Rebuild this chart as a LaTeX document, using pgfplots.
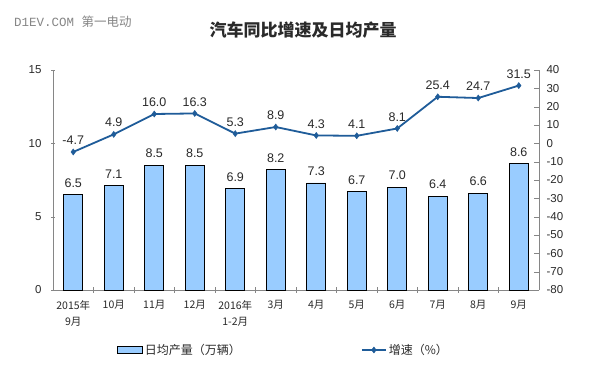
\documentclass[border=0pt]{standalone}
\usepackage{fontspec}
\setmainfont{Liberation Sans}
\setmonofont{Liberation Mono}
\newfontfamily\cjk{Noto Sans CJK SC}
\usepackage{pgfplots}
\pgfplotsset{compat=1.18}
\definecolor{barfill}{HTML}{99CCFF}
\definecolor{linec}{HTML}{1F5C99}
\definecolor{axgray}{HTML}{868686}
\definecolor{txt}{HTML}{2A2A2A}
\pgfplotsset{
  mybarlegend/.style={legend image code/.code={\draw[##1] (0bp,-3.5bp) rectangle (25bp,3.5bp);}},
  mylinelegend/.style={legend image code/.code={\draw[##1, mark repeat=2, mark phase=2] plot coordinates {(0bp,0bp) (12bp,0bp) (24bp,0bp)};}},
}
\begin{document}
\begin{tikzpicture}
\useasboundingbox[fill=white] (0,0) rectangle (596bp,384bp);
\node[anchor=west, text=axgray, font=\fontsize{12.5bp}{14bp}\selectfont, inner sep=0] at (14bp,362bp) {\ttfamily D1EV.COM \cjk 第一电动};
\node[font=\cjk\bfseries\fontsize{17bp}{20bp}\selectfont, text=txt] at (303bp,354bp) {汽车同比增速及日均产量};
\begin{axis}[
  at={(53bp,94bp)}, anchor=south west, scale only axis,
  width=486bp, height=220bp,
  xmin=-0.5, xmax=11.5, ymin=0, ymax=15,
  ytick={0,5,10,15},
  axis lines*=left,
  axis line style={axgray},
  xtick={0,...,11},
  xticklabels={{2015年\\9月},10月,11月,12月,{2016年\\1-2月},3月,4月,5月,6月,7月,8月,9月},
  xticklabel style={font=\cjk\fontsize{10.5bp}{16bp}\selectfont, text=txt, align=center, yshift=-5bp},
  yticklabel style={font=\fontsize{11.5bp}{13bp}\selectfont, text=txt, xshift=-6bp},
  major x tick style={draw=none},
  minor x tick num=1,
  minor x tick style={axgray},
  ytick style={axgray},
  tick align=center,
  major tick length=4bp, minor tick length=6bp,
  /pgf/number format/assume math mode=true,
  clip=false,
]
\addplot[ybar, bar width=19bp, fill=barfill, draw=black, line width=0.8bp,
  nodes near coords,
  every node near coord/.append style={font=\fontsize{12.5bp}{14bp}\selectfont, text=txt, inner sep=0pt, anchor=south, yshift=7bp},
  /pgf/number format/.cd, fixed, fixed zerofill, precision=1]
coordinates {(0,6.5) (1,7.1) (2,8.5) (3,8.5) (4,6.9) (5,8.2) (6,7.3) (7,6.7) (8,7.0) (9,6.4) (10,6.6) (11,8.6)};
\end{axis}
\begin{axis}[
  at={(53bp,94bp)}, anchor=south west, scale only axis,
  width=486bp, height=220bp,
  xmin=-0.5, xmax=11.5, ymin=-80, ymax=40,
  ytick={-80,-70,...,40},
  axis x line=none,
  axis y line*=right,
  axis line style={axgray},
  yticklabel style={font=\fontsize{11.5bp}{13bp}\selectfont, text=txt, xshift=4bp},
  ytick style={axgray},
  tick align=inside,
  major tick length=5bp,
  /pgf/number format/assume math mode=true,
  clip=false,
  legend style={at={(0.1317,-0.2727)}, anchor=west, draw=none, fill=none, inner sep=0pt,
    font=\cjk\fontsize{12bp}{14bp}\selectfont, text=txt, legend columns=2,
    /tikz/every even column/.append style={column sep=118bp}},
]
\addlegendimage{fill=barfill, draw=black, line width=0.8bp, mybarlegend}
\addlegendentry{日均产量（万辆）}
\addplot[linec, line width=1.8bp, mark=diamond*, mark size=3bp, mark options={fill=linec, line width=0.5bp},
  mylinelegend,
  nodes near coords, nodes near coords align={anchor=south},
  every node near coord/.append style={font=\fontsize{12.5bp}{14bp}\selectfont, text=txt, inner sep=0pt, anchor=south, yshift=7bp},
  /pgf/number format/.cd, fixed, fixed zerofill, precision=1]
coordinates {(0,-4.7) (1,4.9) (2,16.0) (3,16.3) (4,5.3) (5,8.9) (6,4.3) (7,4.1) (8,8.1) (9,25.4) (10,24.7) (11,31.5)};
\addlegendentry{增速（\%）}
\end{axis}
\end{tikzpicture}
\end{document}
